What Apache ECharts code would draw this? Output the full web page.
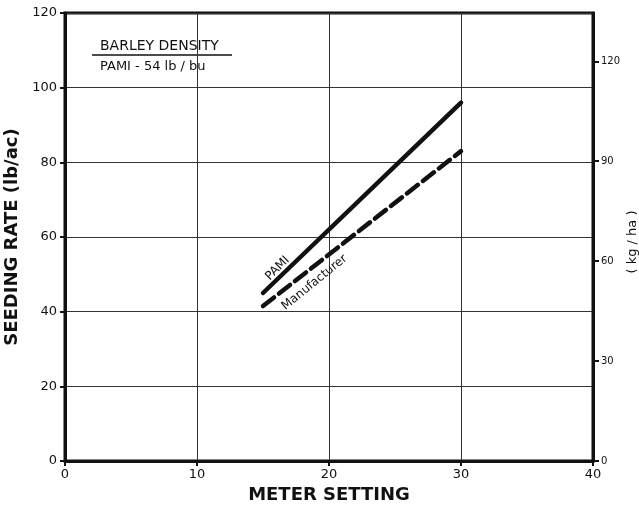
<!DOCTYPE html>
<html>
<head>
<meta charset="utf-8">
<script src="https://cdn.jsdelivr.net/npm/echarts@6/dist/echarts.min.js"></script>
<style>
  html, body { margin: 0; padding: 0; background: #fff; }
  #chart { width: 639px; height: 506px; }
</style>
</head>
<body>
<div id="chart"></div>
<script>
// Meter setting vs. seeding rate, barley
const meterSettings = [15, 30];
const pamiRate = [45, 96];          // lb/ac
const manufacturerRate = [41.5, 83]; // lb/ac
const xTicks = [0, 10, 20, 30, 40];
const leftTicks = [0, 20, 40, 60, 80, 100, 120];
const rightTicks = [0, 30, 60, 90, 120];
const LB_AC_TO_KG_HA = 1.12085;

// Label anchor points along each line (meter setting, lb/ac)
const pamiLabelAt = [16.1, 51.6];
const manufacturerLabelAt = [18.9, 47.8];

const ink = '#111';
const font = 'DejaVu Sans';

const chart = echarts.init(document.getElementById('chart'), null, { renderer: 'canvas' });

const leftMax = leftTicks[leftTicks.length - 1];

chart.setOption({
  animation: false,
  backgroundColor: '#fff',
  grid: {
    left: 65, right: 46, top: 13, bottom: 45,
    outerBoundsMode: 'none', containLabel: false,
    show: true, borderColor: ink, borderWidth: 3, backgroundColor: 'transparent'
  },
  xAxis: {
    type: 'value', min: xTicks[0], max: xTicks[xTicks.length - 1], interval: 10,
    name: 'METER SETTING', nameLocation: 'middle', nameGap: 22,
    nameTextStyle: { fontFamily: font, fontWeight: 'bold', fontSize: 18, color: ink },
    axisLine: { show: true, lineStyle: { color: ink, width: 3 } },
    axisTick: { show: true, length: 5, lineStyle: { color: ink, width: 2 } },
    axisLabel: { fontFamily: font, fontSize: 13, color: ink, margin: 7 },
    splitLine: { show: true, lineStyle: { color: '#333', width: 1 } }
  },
  yAxis: [
    {
      type: 'value', min: 0, max: leftMax, interval: 20, position: 'left',
      name: 'SEEDING RATE (lb/ac)', nameLocation: 'middle', nameGap: 36,
      nameTextStyle: { fontFamily: font, fontWeight: 'bold', fontSize: 18, color: ink },
      axisLine: { show: true, lineStyle: { color: ink, width: 3 } },
      axisTick: { show: true, length: 5, lineStyle: { color: ink, width: 2 } },
      axisLabel: { fontFamily: font, fontSize: 13, color: ink, margin: 8 },
      splitLine: { show: true, lineStyle: { color: '#333', width: 1 } }
    },
    {
      type: 'value', min: 0, max: leftMax * LB_AC_TO_KG_HA, interval: 30, position: 'right',
      name: '( kg / ha )', nameLocation: 'middle', nameGap: 33, nameRotate: 90,
      nameMoveOverlap: false,
      nameTextStyle: { fontFamily: font, fontSize: 13, color: ink, padding: [0, 10, 0, 0] },
      axisLine: { show: true, lineStyle: { color: ink, width: 3 } },
      axisTick: { show: true, length: 6, lineStyle: { color: ink, width: 2 } },
      axisLabel: {
        fontFamily: font, fontSize: 10, color: ink, margin: 8,
        showMaxLabel: false,
        formatter: v => (rightTicks.indexOf(v) >= 0 ? String(v) : '')
      },
      splitLine: { show: false }
    }
  ],
  series: [
    {
      name: 'PAMI', type: 'line', yAxisIndex: 0, symbol: 'none',
      lineStyle: { color: ink, width: 4.5, cap: 'round' },
      data: meterSettings.map((x, i) => [x, pamiRate[i]])
    },
    {
      name: 'Manufacturer', type: 'line', yAxisIndex: 0, symbol: 'none',
      lineStyle: { color: ink, width: 4.5, type: [14, 6.3], cap: 'round' },
      data: meterSettings.map((x, i) => [x, manufacturerRate[i]])
    },
    {
      type: 'scatter', yAxisIndex: 0, symbolSize: 0, silent: true,
      itemStyle: { opacity: 1 },
      data: [
        { value: pamiLabelAt, label: { formatter: 'PAMI', rotate: 45 } },
        { value: manufacturerLabelAt, label: { formatter: 'Manufacturer', rotate: 39 } }
      ],
      label: { show: true, position: 'inside', fontFamily: font, fontSize: 12, color: ink, opacity: 1 }
    }
  ],
  graphic: [
    { type: 'text', left: 100, top: 39, style: { text: 'BARLEY DENSITY', font: '14px "DejaVu Sans"', fill: ink } },
    { type: 'line', shape: { x1: 92, y1: 55, x2: 232, y2: 55 }, style: { stroke: ink, lineWidth: 1.5 } },
    { type: 'text', left: 100, top: 60, style: { text: 'PAMI - 54 lb / bu', font: '13px "DejaVu Sans"', fill: ink } }
  ]
});
</script>
</body>
</html>
